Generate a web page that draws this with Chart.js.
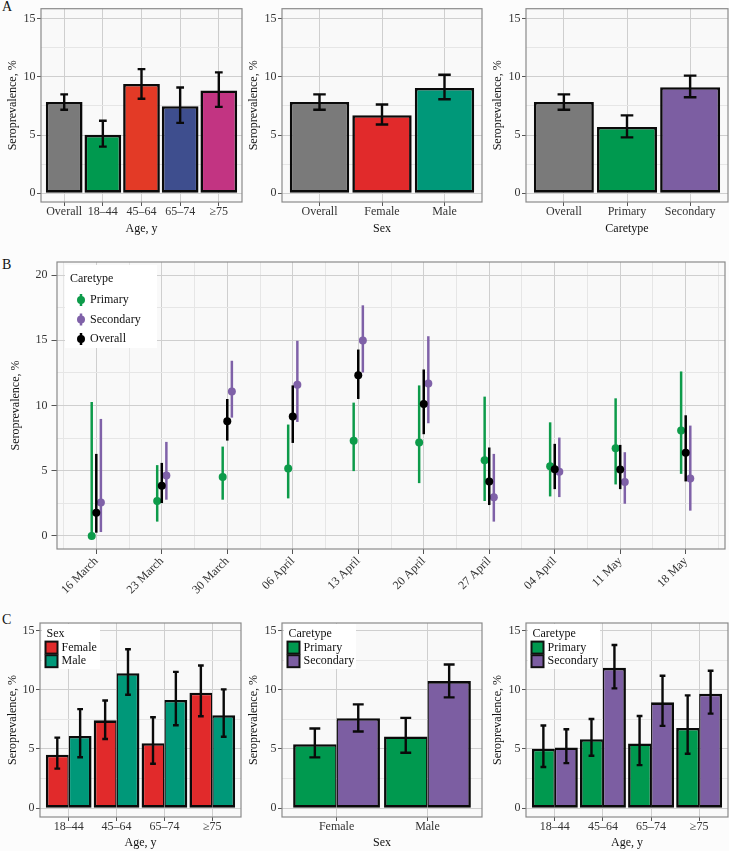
<!DOCTYPE html>
<html>
<head>
<meta charset="utf-8">
<script src="https://cdn.jsdelivr.net/npm/chart.js@4.4.1/dist/chart.umd.min.js"></script>
<style>
  body { margin: 0; background: #fcfcfc; }
  #fig { position: relative; width: 729px; height: 851px; overflow: hidden; }
  #fig canvas { position: absolute; }
  .tag { position: absolute; font: 14px 'Liberation Serif', serif; line-height: 14px; color: #111; }
</style>
</head>
<body>
<div id="fig">
  <div class="tag" style="left:2px;top:0px">A</div>
  <div class="tag" style="left:2px;top:258px">B</div>
  <div class="tag" style="left:2px;top:613px">C</div>
</div>
<script>
// ---- data ----
const ageCats = ['Overall', '18–44', '45–64', '65–74', '≥75'];
const ageVals = [7.84, 5.02, 9.39, 7.48, 8.83];
const ageLow  = [7.17, 4.00, 8.12, 6.04, 7.42];
const ageHigh = [8.49, 6.23, 10.66, 9.08, 10.38];

const sexCats = ['Overall', 'Female', 'Male'];
const sexVals = [7.84, 6.71, 9.05];
const sexLow  = [7.17, 5.90, 8.07];
const sexHigh = [8.49, 7.62, 10.18];

const careCats = ['Overall', 'Primary', 'Secondary'];
const careVals = [7.84, 5.70, 9.11];
const careLow  = [7.17, 4.80, 8.24];
const careHigh = [8.49, 6.69, 10.10];

const weeks = ['16 March', '23 March', '30 March', '06 April', '13 April', '20 April', '27 April', '04 April', '11 May', '18 May'];
const primaryEst  = [0.00, 2.68, 4.51, 5.17, 7.29, 7.16, 5.81, 5.35, 6.73, 8.08];
const primaryLow  = [0.00, 1.10, 2.78, 2.88, 4.97, 4.05, 2.68, 3.03, 3.95, 4.76];
const primaryHigh = [10.27, 5.43, 6.85, 8.54, 10.22, 11.54, 10.68, 8.71, 10.55, 12.61];
const secondaryEst  = [2.57, 4.64, 11.08, 11.59, 14.98, 11.69, 2.96, 4.92, 4.13, 4.41];
const secondaryLow  = [0.30, 2.78, 9.07, 8.74, 12.53, 8.64, 1.10, 2.98, 2.47, 1.94];
const secondaryHigh = [8.97, 7.21, 13.43, 14.96, 17.68, 15.31, 6.29, 7.54, 6.42, 8.46];
const overallEst  = [1.78, 3.85, 8.79, 9.15, 12.31, 10.11, 4.18, 5.12, 5.10, 6.37];
const overallLow  = [0.25, 2.52, 7.31, 7.13, 10.50, 7.80, 2.37, 3.59, 3.59, 4.18];
const overallHigh = [6.29, 5.60, 10.50, 11.54, 14.29, 12.76, 6.78, 7.06, 6.98, 9.25];

const ageGroups = ['18–44', '45–64', '65–74', '≥75'];
const femaleByAge     = [4.52, 7.42, 5.49, 9.76];
const femaleByAgeLow  = [3.34, 5.84, 3.76, 7.77];
const femaleByAgeHigh = [5.96, 9.10, 7.68, 12.06];
const maleByAge     = [6.10, 11.40, 9.14, 7.85];
const maleByAgeLow  = [4.30, 9.58, 7.01, 6.03];
const maleByAgeHigh = [8.37, 13.43, 11.52, 10.04];

const sexGroups = ['Female', 'Male'];
const primaryBySex     = [5.41, 6.06];
const primaryBySexLow  = [4.29, 4.68];
const primaryBySexHigh = [6.73, 7.63];
const secondaryBySex     = [7.60, 10.74];
const secondaryBySexLow  = [6.48, 9.36];
const secondaryBySexHigh = [8.77, 12.14];

const primaryByAge     = [5.02, 5.83, 5.47, 6.78];
const primaryByAgeLow  = [3.48, 4.43, 3.64, 4.60];
const primaryByAgeHigh = [6.98, 7.54, 7.79, 9.53];
const secondaryByAge     = [5.13, 11.86, 8.94, 9.67];
const secondaryByAgeLow  = [3.81, 10.12, 6.95, 7.99];
const secondaryByAgeHigh = [6.67, 13.79, 11.19, 11.61];

const yTicksBar = [0, 5, 10, 15];
const yTicksTime = [0, 5, 10, 15, 20];

// ---- styling ----
const FONT = "'Liberation Serif', 'Times New Roman', serif";
const PLOT_BG = '#f9f9f9';
const MAJOR = '#cfcfcf';
const MINOR = '#e6e6e6';
const BORDER = '#8a8a8a';
const TICK = '#555555';
const GRAY = '#7a7a7a', GREEN = '#00994f', ORANGE = '#e33a26', RED = '#e12a2b';
const BLUE = '#3e4e8e', MAGENTA = '#c23482', TEAL = '#009879', PURPLE = '#7c5ea2';
const B_GREEN = '#0d9b4a', B_PURPLE = '#7f61a8';

Chart.defaults.font.family = FONT;
Chart.defaults.font.size = 12;
Chart.defaults.color = '#333';

function withMinor(t) {
  const out = [];
  t.forEach((v, i) => { out.push(v); if (i < t.length - 1) out.push((v + t[i + 1]) / 2); });
  return out;
}

// plot background + panel border
const panelBg = {
  id: 'panelBg',
  beforeDraw(chart) {
    const { ctx, chartArea: a } = chart;
    ctx.save();
    ctx.fillStyle = PLOT_BG;
    ctx.fillRect(a.left, a.top, a.width, a.height);
    ctx.restore();
  },
  afterDraw(chart) {
    const { ctx, chartArea: a } = chart;
    ctx.save();
    ctx.strokeStyle = BORDER;
    ctx.lineWidth = 1.2;
    ctx.strokeRect(a.left, a.top, a.width, a.height);
    ctx.restore();
  }
};

function drawErr(chart, di) {
  const ds = chart.data.datasets[di];
  const meta = chart.getDatasetMeta(di);
  const { x, y } = chart.scales;
  const ctx = chart.ctx;
  const half = ds.capUnits ? (x.getPixelForValue(ds.capUnits) - x.getPixelForValue(0)) / 2 : 0;
  ctx.save();
  ctx.strokeStyle = ds.errColor || '#111';
  ctx.lineWidth = ds.errWidth || 2;
  meta.data.forEach((el, i) => {
    const px = el.x;
    const top = y.getPixelForValue(ds.errHigh[i]);
    const bot = y.getPixelForValue(ds.errLow[i]);
    ctx.beginPath();
    ctx.moveTo(px, top); ctx.lineTo(px, bot);
    if (half) {
      ctx.moveTo(px - half, top); ctx.lineTo(px + half, top);
      ctx.moveTo(px - half, bot); ctx.lineTo(px + half, bot);
    }
    ctx.stroke();
  });
  ctx.restore();
}

const errorBars = {
  id: 'errorBars',
  beforeDatasetDraw(chart, args) {
    const ds = chart.data.datasets[args.index];
    if (ds.errLow && ds.errBehind) drawErr(chart, args.index);
  },
  afterDatasetsDraw(chart) {
    chart.data.datasets.forEach((ds, i) => { if (ds.errLow && !ds.errBehind) drawErr(chart, i); });
  }
};

// legend drawn inside the panel, top-left
function makeLegend(spec) {
  return {
    id: 'boxLegend',
    afterDraw(chart) {
      const ctx = chart.ctx, a = chart.chartArea;
      ctx.save();
      ctx.fillStyle = '#ffffff';
      ctx.fillRect(a.left + spec.boxX, a.top + spec.boxY, spec.boxW, spec.boxH);
      ctx.font = '12px ' + FONT;
      ctx.textBaseline = 'middle';
      ctx.textAlign = 'left';
      ctx.fillStyle = '#111';
      ctx.fillText(spec.title, a.left + spec.titleX, a.top + spec.titleY);
      spec.items.forEach((it, k) => {
        const cy = a.top + spec.itemY + k * spec.gap;
        const kx = a.left + spec.keyX;
        if (spec.kind === 'box') {
          ctx.fillStyle = it.color;
          ctx.fillRect(kx, cy - 6, 12, 12);
          ctx.strokeStyle = '#111';
          ctx.lineWidth = 2;
          ctx.strokeRect(kx, cy - 6, 12, 12);
        } else {
          ctx.strokeStyle = it.color;
          ctx.lineWidth = 2.5;
          ctx.beginPath(); ctx.moveTo(kx, cy - 6); ctx.lineTo(kx, cy + 6); ctx.stroke();
          ctx.fillStyle = it.color;
          ctx.beginPath(); ctx.arc(kx, cy, 4, 0, Math.PI * 2); ctx.fill();
        }
        ctx.fillStyle = '#111';
        ctx.fillText(it.label, a.left + spec.textX, cy);
      });
      ctx.restore();
    }
  };
}

function addCanvas(left, top, w, h) {
  const c = document.createElement('canvas');
  c.width = w; c.height = h;
  c.style.left = left + 'px'; c.style.top = top + 'px';
  c.style.width = w + 'px'; c.style.height = h + 'px';
  document.getElementById('fig').appendChild(c);
  return c;
}

function yScale(min, max, ticks, width, titlePad, tickLen, tickPad) {
  const isMajor = c => c.tick && ticks.includes(c.tick.value);
  return {
    type: 'linear', min: min, max: max,
    afterBuildTicks: s => { s.ticks = withMinor(ticks).map(v => ({ value: v })); },
    afterFit: s => { s.width = width; },
    border: { display: false },
    grid: {
      color: c => isMajor(c) ? MAJOR : MINOR,
      lineWidth: 1,
      tickLength: tickLen,
      tickColor: c => isMajor(c) ? TICK : 'rgba(0,0,0,0)',
      tickWidth: 1
    },
    ticks: { padding: tickPad, color: '#333', callback: v => ticks.includes(v) ? String(v) : '' },
    title: { display: true, text: 'Seroprevalence, %', color: '#111', font: { size: 12 }, padding: { top: titlePad, bottom: 0 } }
  };
}

function barPanel(cfg) {
  const canvas = addCanvas(cfg.left, cfg.top, cfg.w, cfg.h);
  const a = cfg.area;
  const n = cfg.cats.length;
  const plugins = [panelBg, errorBars];
  if (cfg.legend) plugins.push(makeLegend(cfg.legend));
  new Chart(canvas, {
    type: 'bar',
    data: {
      datasets: cfg.sets.map(s => ({
        label: s.label,
        data: s.values.map((v, i) => ({ x: i, y: v })),
        backgroundColor: s.color,
        borderColor: '#0a0a0a',
        borderWidth: s.bw || 2.6,
        borderSkipped: false,
        categoryPercentage: cfg.catPct,
        barPercentage: 1,
        errLow: s.low, errHigh: s.high,
        capUnits: cfg.cap, errWidth: 2.4, errColor: '#0a0a0a'
      }))
    },
    options: {
      responsive: false, animation: false,
      layout: { padding: { left: 0, top: a.t, right: cfg.w - a.r, bottom: 0 } },
      plugins: { legend: { display: false }, tooltip: { enabled: false } },
      scales: {
        x: {
          type: 'linear', min: -0.6, max: n - 1 + 0.6, offset: false,
          afterBuildTicks: s => { s.ticks = cfg.cats.map((c, i) => ({ value: i })); },
          afterFit: s => { s.height = cfg.h - a.b; },
          border: { display: false },
          grid: { offset: false, color: MAJOR, lineWidth: 1, tickLength: 4, tickColor: TICK, tickWidth: 1 },
          ticks: { autoSkip: false, minRotation: 0, maxRotation: 0, padding: 0, color: '#333',
                   font: { size: 12, lineHeight: 1 }, callback: v => cfg.cats[v] },
          title: { display: true, text: cfg.xTitle, color: '#111', font: { size: 12 },
                   padding: { top: 0, bottom: cfg.xTitlePad } }
        },
        y: yScale(cfg.yMin, cfg.yMax, yTicksBar, a.l, 5.3, 4, 1.5)
      }
    },
    plugins: plugins
  });
}

function drawAll() {
  // ---- row A ----
  const rowA = { top: 0, h: 240, yMin: -0.755, yMax: 15.855, catPct: 0.95, cap: 0.2, xTitlePad: 3.5 };
  barPanel(Object.assign({}, rowA, {
    left: 0, w: 245, area: { l: 41, t: 5, r: 242, b: 202 }, cats: ageCats, xTitle: 'Age, y',
    sets: [{ values: ageVals, low: ageLow, high: ageHigh, color: [GRAY, GREEN, ORANGE, BLUE, MAGENTA] }]
  }));
  barPanel(Object.assign({}, rowA, {
    left: 241, w: 245, area: { l: 41, t: 5, r: 241, b: 202 }, cats: sexCats, xTitle: 'Sex',
    sets: [{ values: sexVals, low: sexLow, high: sexHigh, color: [GRAY, RED, TEAL] }]
  }));
  barPanel(Object.assign({}, rowA, {
    left: 485, w: 244, area: { l: 41, t: 5, r: 243, b: 202 }, cats: careCats, xTitle: 'Caretype',
    sets: [{ values: careVals, low: careLow, high: careHigh, color: [GRAY, GREEN, PURPLE] }]
  }));

  // ---- row C ----
  const rowC = { top: 605, h: 246, yMin: -0.745, yMax: 15.645, catPct: 0.955, cap: 0.12, xTitlePad: 0.5 };
  const bwLeft = { top: 2.6, left: 2.6, bottom: 2.6, right: 1.4 };
  const bwRight = { top: 2.6, left: 1.4, bottom: 2.6, right: 2.6 };
  const legendC = (title, items, w) => ({
    kind: 'box', title: title, items: items, boxX: 2, boxY: 1, boxW: w, boxH: 45,
    titleX: 6.5, titleY: 10.5, keyX: 5.5, itemY: 24.6, gap: 13.6, textX: 21.5
  });
  barPanel(Object.assign({}, rowC, {
    left: 0, w: 245, area: { l: 40, t: 18, r: 241, b: 212 }, cats: ageGroups, xTitle: 'Age, y',
    sets: [
      { label: 'Female', values: femaleByAge, low: femaleByAgeLow, high: femaleByAgeHigh, color: RED, bw: bwLeft },
      { label: 'Male', values: maleByAge, low: maleByAgeLow, high: maleByAgeHigh, color: TEAL, bw: bwRight }
    ],
    legend: legendC('Sex', [{ label: 'Female', color: RED }, { label: 'Male', color: TEAL }], 58)
  }));
  barPanel(Object.assign({}, rowC, {
    left: 241, w: 245, area: { l: 41, t: 18, r: 241, b: 212 }, cats: sexGroups, xTitle: 'Sex',
    sets: [
      { label: 'Primary', values: primaryBySex, low: primaryBySexLow, high: primaryBySexHigh, color: GREEN, bw: bwLeft },
      { label: 'Secondary', values: secondaryBySex, low: secondaryBySexLow, high: secondaryBySexHigh, color: PURPLE, bw: bwRight }
    ],
    legend: legendC('Caretype', [{ label: 'Primary', color: GREEN }, { label: 'Secondary', color: PURPLE }], 72)
  }));
  barPanel(Object.assign({}, rowC, {
    left: 485, w: 244, area: { l: 41, t: 18, r: 243, b: 212 }, cats: ageGroups, xTitle: 'Age, y',
    sets: [
      { label: 'Primary', values: primaryByAge, low: primaryByAgeLow, high: primaryByAgeHigh, color: GREEN, bw: bwLeft },
      { label: 'Secondary', values: secondaryByAge, low: secondaryByAgeLow, high: secondaryByAgeHigh, color: PURPLE, bw: bwRight }
    ],
    legend: legendC('Caretype', [{ label: 'Primary', color: GREEN }, { label: 'Secondary', color: PURPLE }], 72)
  }));

  // ---- row B: weekly seroprevalence ----
  const W = 729, H = 365;
  const area = { l: 57, t: 22, r: 728, b: 309 };
  const canvas = addCanvas(0, 240, W, H);
  const xTicks = [];
  for (let i = 0; i <= weeks.length; i++) { xTicks.push(i - 0.5); if (i < weeks.length) xTicks.push(i); }
  const isMajorX = c => c.tick && Number.isInteger(c.tick.value);
  const series = (label, est, low, high, color, shift) => ({
    label: label,
    data: est.map((v, i) => ({ x: i + shift, y: v })),
    pointRadius: 4, pointHoverRadius: 4, pointBorderWidth: 0,
    backgroundColor: color, borderColor: color, showLine: false,
    errLow: low, errHigh: high, errBehind: true, errColor: color, errWidth: 2.5
  });
  new Chart(canvas, {
    type: 'scatter',
    data: {
      datasets: [
        series('Overall', overallEst, overallLow, overallHigh, '#000000', 0),
        series('Primary', primaryEst, primaryLow, primaryHigh, B_GREEN, -0.07),
        series('Secondary', secondaryEst, secondaryLow, secondaryHigh, B_PURPLE, 0.07)
      ]
    },
    options: {
      responsive: false, animation: false,
      layout: { padding: { left: 0, top: area.t, right: W - area.r, bottom: 0 } },
      plugins: { legend: { display: false }, tooltip: { enabled: false } },
      scales: {
        x: {
          type: 'linear', min: -0.6, max: weeks.length - 1 + 0.6,
          afterBuildTicks: s => { s.ticks = xTicks.map(v => ({ value: v })); },
          afterFit: s => { s.height = H - area.b; },
          border: { display: false },
          grid: {
            color: c => isMajorX(c) ? MAJOR : MINOR, lineWidth: 1, tickLength: 5,
            tickColor: c => isMajorX(c) ? TICK : 'rgba(0,0,0,0)', tickWidth: 1
          },
          ticks: { autoSkip: false, minRotation: 45, maxRotation: 45, padding: 1, color: '#333',
                   font: { size: 12, lineHeight: 1 },
                   callback: v => Number.isInteger(v) ? weeks[v] : '' }
        },
        y: yScale(-1, 21, yTicksTime, area.l, 8.8, 5.5, 4)
      }
    },
    plugins: [panelBg, errorBars, makeLegend({
      kind: 'point', title: 'Caretype',
      items: [{ label: 'Primary', color: B_GREEN }, { label: 'Secondary', color: B_PURPLE }, { label: 'Overall', color: '#000000' }],
      boxX: 8, boxY: 3, boxW: 92, boxH: 83, titleX: 13, titleY: 17, keyX: 24, itemY: 38, gap: 19.5, textX: 33
    })]
  });
}

// make sure the serif face is ready before the canvases draw text
if (document.fonts && document.fonts.load) {
  document.fonts.load("12px 'Liberation Serif'").then(drawAll, drawAll);
} else {
  drawAll();
}
</script>
</body>
</html>
